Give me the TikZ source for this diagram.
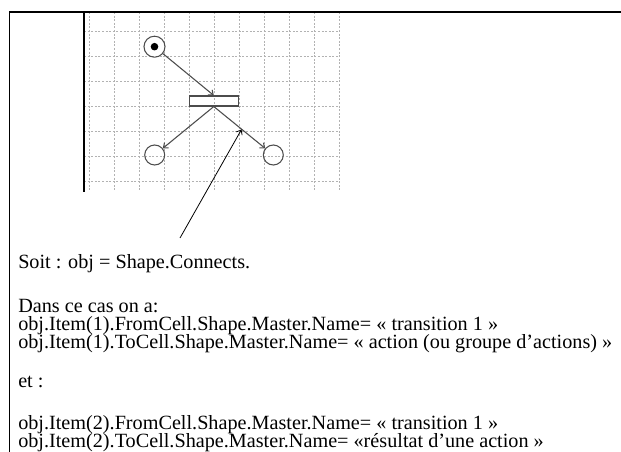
\documentclass[tikz,border=0pt]{standalone}
\usepackage{fontspec}
\setmainfont{Liberation Serif}
\usetikzlibrary{arrows.meta}
\begin{document}
\begin{tikzpicture}[
        x=0.75pt,
        y=-0.75pt,
        diag/.style={draw=black!70, line width=0.8pt},
        gridline/.style={draw=black!30, line width=0.4pt, dash pattern=on 1.5pt off 1.2pt},
        initstate/.style={circle, diag, minimum size=15.75pt, inner sep=0pt},
        bar/.style={rectangle, diag, minimum width=36.75pt, minimum height=7.5pt, inner sep=0pt},
        place/.style={circle, diag, minimum size=15pt, inner sep=0pt},
        flow/.style={diag, -{Straight Barb[length=3pt,width=5pt]}},
        txt/.style={anchor=base west, inner sep=0pt, font=\fontsize{15.15}{18}\selectfont}
    ]
    \useasboundingbox (0,0) rectangle (621,452);
    \foreach \gx in {89,114,...,339} \draw[gridline] (\gx,12) -- (\gx,192);
    \foreach \gy in {31.5,56.5,...,181.5} \draw[gridline] (84,\gy) -- (339,\gy);
    \draw[line width=0.8pt] (84,12) -- (84,192);
    \draw[line width=1.3pt] (9.5,452) -- (9.5,12) -- (621,12);

    \node[initstate] (start) at (154.5,46.7) {};
    \fill[black] (start.center) circle[radius=2.85pt];
    \node[bar] (trans) at (213.8,101) {};
    \node[place] (act) at (154.7,155) {};
    \node[place] (res) at (273.3,155) {};

    \draw[flow] (start) -- (trans.north);
    \draw[flow] (trans.south) -- (act);
    \draw[flow] (trans.south) -- (res);

    \coordinate (ptr) at (180,238);
    \coordinate (ptrtip) at (241.5,129.5);
    \draw[line width=0.6pt, -{Straight Barb[length=3pt,width=5pt]}] (ptr) -- (ptrtip);

    \node[txt] (soit) at (18,269) {Soit : obj = Shape.Connects.};
    \node[txt] (dans) at (18,312) {Dans ce cas on a:};
    \node[txt] (from1) at (18,330.5) {obj.Item(1).FromCell.Shape.Master.Name= « transition 1 »};
    \node[txt] (to1) at (18,349) {obj.Item(1).ToCell.Shape.Master.Name= « action (ou groupe d’actions) »};
    \node[txt] (et) at (18,387) {et :};
    \node[txt] (from2) at (18,429) {obj.Item(2).FromCell.Shape.Master.Name= « transition 1 »};
    \node[txt] (to2) at (18,447.5) {obj.Item(2).ToCell.Shape.Master.Name= «résultat d’une action »};
\end{tikzpicture}
\end{document}
